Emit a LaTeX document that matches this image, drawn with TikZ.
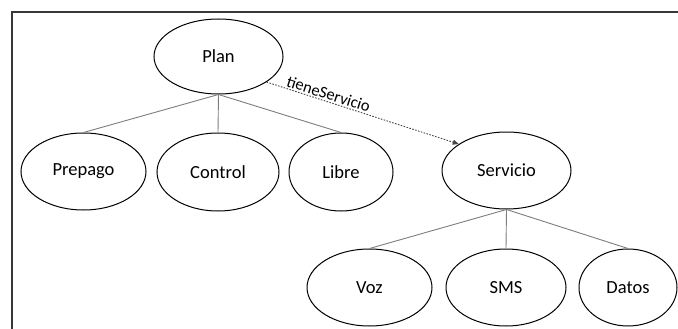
\documentclass[tikz,border=0pt]{standalone}
\usepackage{fontspec}
\setmainfont{Carlito}
\usetikzlibrary{arrows.meta,shapes.geometric}
\definecolor{framegray}{RGB}{55,55,55}
\definecolor{linkgray}{RGB}{125,125,125}
\definecolor{relgray}{RGB}{70,70,70}
\tikzset{
  concept/.style={ellipse, draw=black, line width=1pt, inner sep=0pt,
    font=\fontsize{18.5}{22}\selectfont},
  link/.style={draw=linkgray, line width=0.9pt},
  relation/.style={draw=relgray, line width=0.9pt, dash pattern=on 1.6pt off 1.4pt,
    -{Triangle[length=6pt,width=5pt]}},
  rellabel/.style={font=\fontsize{16.5}{18}\selectfont, inner sep=1.5pt},
  frameline/.style={draw=framegray, line width=1.4pt}
}
\begin{document}
\begin{tikzpicture}[x=1pt,y=-1pt]
\useasboundingbox (0,0) rectangle (678,329);

% open frame: left and top edges
\coordinate (fbl) at (12,329);
\coordinate (ftl) at (12,12);
\coordinate (ftr) at (678,12);
\draw[frameline] (fbl) -- (ftl) -- (ftr);

% class hierarchy
\node[concept, minimum width=129pt, minimum height=75pt] (plan) at (218.5,56.5) {Plan};
\node[concept, minimum width=125pt, minimum height=77pt] (prepago) at (83.5,171.5) {Prepago};
\node[concept, minimum width=122pt, minimum height=78pt] (control) at (218,172) {Control};
\node[concept, minimum width=104pt, minimum height=78pt] (libre) at (341,172) {Libre};
\node[concept, minimum width=129pt, minimum height=77pt] (servicio) at (506.5,170.5) {Servicio};
\node[concept, minimum width=125pt, minimum height=77pt] (voz) at (369.5,287.5) {Voz};
\node[concept, minimum width=120pt, minimum height=77pt] (sms) at (506,287.5) {SMS};
\node[concept, minimum width=98pt, minimum height=77pt] (datos) at (628,287.5) {Datos};

% subclass links
\draw[link] (plan.south) -- (prepago.north);
\draw[link] (plan.south) -- (control.north);
\draw[link] (plan.south) -- (libre.north);
\draw[link] (servicio.south) -- (voz.north);
\draw[link] (servicio.south) -- (sms.north);
\draw[link] (servicio.south) -- (datos.north);

% object property
\draw[relation] (plan.-28) -- node[rellabel, pos=0.31, above, sloped] {tieneServicio} (servicio.151);
\end{tikzpicture}
\end{document}
